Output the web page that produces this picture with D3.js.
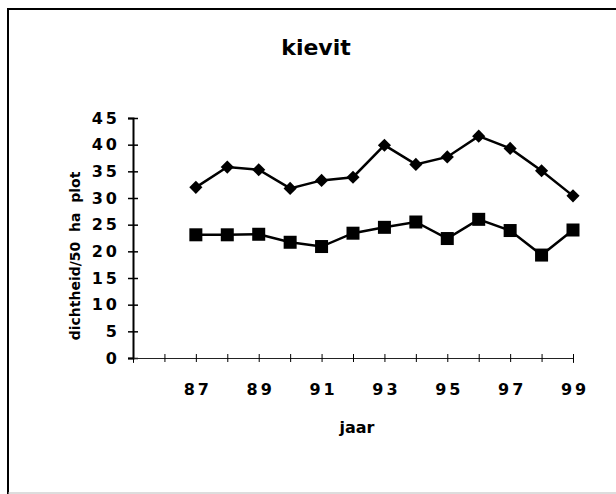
<!DOCTYPE html>
<html>
<head>
<meta charset="utf-8">
<script src="https://cdn.jsdelivr.net/npm/d3@7"></script>
<style>
  body { margin: 0; background: #fff; }
  svg { display: block; }
  text { font-family: "DejaVu Sans", "Liberation Sans", Arial, sans-serif; font-weight: bold; fill: #000; }
</style>
</head>
<body>
<script>
// jaren en dichtheden
const jaren = [87, 88, 89, 90, 91, 92, 93, 94, 95, 96, 97, 98, 99];
const reeksRuit = [32.0, 35.8, 35.3, 31.8, 33.3, 33.9, 39.9, 36.3, 37.7, 41.6, 39.3, 35.1, 30.4];
const reeksVierkant = [23.1, 23.1, 23.2, 21.7, 20.9, 23.4, 24.5, 25.5, 22.4, 26.0, 23.9, 19.3, 24.0];
const yTicks = [0, 5, 10, 15, 20, 25, 30, 35, 40, 45];
const xTicks = [85, 86, 87, 88, 89, 90, 91, 92, 93, 94, 95, 96, 97, 98, 99];
const xLabels = [87, 89, 91, 93, 95, 97, 99];

const breedte = 616, hoogte = 494;

const svg = d3.select("body").append("svg")
    .attr("width", breedte)
    .attr("height", hoogte);

// kader
svg.append("line").attr("x1", 7).attr("x2", 616).attr("y1", 9).attr("y2", 9)
    .attr("stroke", "#000").attr("stroke-width", 2);
svg.append("line").attr("x1", 8).attr("x2", 8).attr("y1", 8).attr("y2", 494)
    .attr("stroke", "#000").attr("stroke-width", 2);
svg.append("line").attr("x1", 8).attr("x2", 616).attr("y1", 493).attr("y2", 493)
    .attr("stroke", "#bbb").attr("stroke-width", 1);

// schalen
const x = d3.scaleLinear().domain([85, 99]).range([133, 573]);
const y = d3.scaleLinear().domain([0, 45]).range([358, 118]);

// titel
svg.append("text")
    .attr("x", 316).attr("y", 55)
    .attr("text-anchor", "middle")
    .style("font-size", "22px")
    .text("kievit");

// y-as
const yAs = svg.append("g")
    .attr("transform", "translate(" + x(85) + ",0)")
    .call(d3.axisLeft(y).tickValues(yTicks).tickSize(5).tickPadding(8));
yAs.select(".domain").attr("stroke", "#000").attr("stroke-width", 2);
yAs.selectAll(".tick line").attr("x1", -5).attr("x2", 5)
    .attr("stroke", "#000").attr("stroke-width", 1.5);
yAs.selectAll(".tick text")
    .style("font-size", "16px")
    .style("letter-spacing", "3px")
    .attr("font-family", null);

// x-as
const xAs = svg.append("g")
    .attr("transform", "translate(0," + y(0) + ")")
    .call(d3.axisBottom(x).tickValues(xTicks).tickSize(5).tickPadding(21)
        .tickFormat(d => xLabels.includes(d) ? d : ""));
xAs.select(".domain").attr("stroke", "#222").attr("stroke-width", 1);
xAs.selectAll(".tick line").attr("y1", -4).attr("y2", 4)
    .attr("stroke", "#000").attr("stroke-width", 1);
xAs.selectAll(".tick text")
    .attr("dx", "1.5px")
    .style("font-size", "16px")
    .style("letter-spacing", "3px")
    .attr("font-family", null);

// as-titels
svg.append("text")
    .attr("transform", "translate(80,256) rotate(-90)")
    .attr("text-anchor", "middle")
    .style("font-size", "14px")
    .style("white-space", "pre")
    .text("dichtheid/50  ha  plot");

svg.append("text")
    .attr("x", 357).attr("y", 433)
    .attr("text-anchor", "middle")
    .style("font-size", "16px")
    .text("jaar");

// lijnen
const lijn = d3.line()
    .x((d, i) => x(jaren[i]))
    .y(d => y(d));

svg.append("path").datum(reeksRuit)
    .attr("d", lijn)
    .attr("fill", "none").attr("stroke", "#000").attr("stroke-width", 2.5);

svg.append("path").datum(reeksVierkant)
    .attr("d", lijn)
    .attr("fill", "none").attr("stroke", "#000").attr("stroke-width", 2.5);

// markers
svg.selectAll(".ruit").data(reeksRuit).enter()
    .append("path")
    .attr("class", "ruit")
    .attr("d", d3.symbol().type(d3.symbolDiamond2).size(110))
    .attr("transform", (d, i) => "translate(" + x(jaren[i]) + "," + y(d) + ")")
    .attr("fill", "#000");

svg.selectAll(".vierkant").data(reeksVierkant).enter()
    .append("rect")
    .attr("class", "vierkant")
    .attr("width", 13).attr("height", 13)
    .attr("x", (d, i) => x(jaren[i]) - 6.5)
    .attr("y", d => y(d) - 6.5)
    .attr("fill", "#000");
</script>
</body>
</html>
